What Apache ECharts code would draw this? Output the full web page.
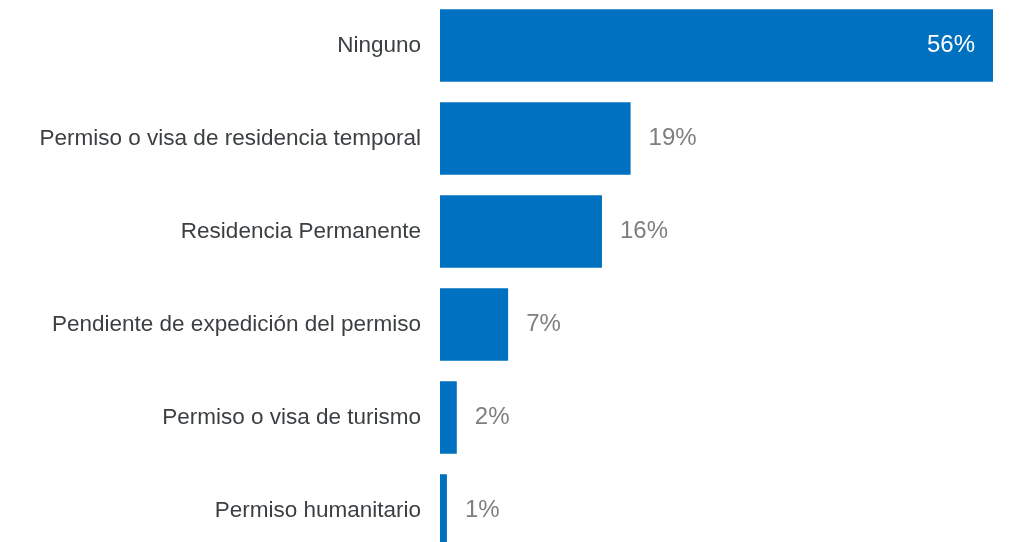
<!DOCTYPE html>
<html>
<head>
<meta charset="utf-8">
<script src="https://cdn.jsdelivr.net/npm/echarts@6/dist/echarts.min.js"></script>
<style>
  html, body { margin: 0; padding: 0; background: #fff; }
  #chart { width: 1011px; height: 542px; }
</style>
</head>
<body>
<div id="chart"></div>
<script>
var categories = [
  'Ninguno',
  'Permiso o visa de residencia temporal',
  'Residencia Permanente',
  'Pendiente de expedición del permiso',
  'Permiso o visa de turismo',
  'Permiso humanitario'
];
var values = [56, 19.3, 16.4, 6.9, 1.7, 0.7];

var chart = echarts.init(document.getElementById('chart'));

var seriesData = values.map(function (v, i) {
  var item = { value: v };
  if (i === 0) {
    item.label = { position: 'insideRight', distance: 18, color: '#ffffff' };
  }
  return item;
});

var option = {
  animation: false,
  grid: {
    left: 440,
    right: 18,
    top: -1,
    height: 558,
    outerBoundsMode: 'none',
    containLabel: false
  },
  xAxis: {
    type: 'value',
    min: 0,
    max: 56,
    show: false
  },
  yAxis: {
    type: 'category',
    inverse: true,
    data: categories,
    axisLine: { show: false },
    axisTick: { show: false },
    axisLabel: {
      margin: 19,
      color: '#3b3f42',
      fontSize: 22.5,
      padding: [3, 0, 0, 0],
      fontFamily: 'Liberation Sans, Arial, sans-serif'
    }
  },
  series: [
    {
      type: 'bar',
      data: seriesData,
      barCategoryGap: '22%',
      itemStyle: { color: '#0070c0' },
      label: {
        show: true,
        position: 'right',
        distance: 18,
        color: '#7f7f7f',
        fontSize: 24,
        padding: [3, 0, 0, 0],
        fontFamily: 'Liberation Sans, Arial, sans-serif',
        formatter: function (p) {
          return Math.round(p.value) + '%';
        }
      }
    }
  ]
};

chart.setOption(option);
window.addEventListener('resize', function () {
  chart.resize();
});
</script>
</body>
</html>
